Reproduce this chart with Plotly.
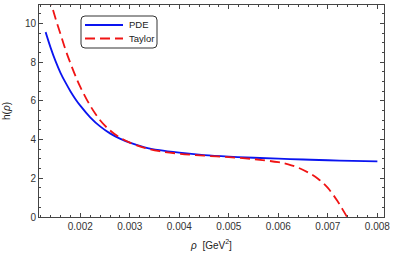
import plotly.graph_objects as go

# Data
rho_pde = [0.0013, 0.0014, 0.0015, 0.0016, 0.0017, 0.0018, 0.0019, 0.0020, 0.0022, 0.0024,
           0.0026, 0.0028, 0.0030, 0.0033, 0.0036, 0.0040, 0.0045, 0.0050, 0.0055, 0.0060,
           0.0065, 0.0070, 0.0075, 0.0080]
h_pde = [9.55, 8.75, 8.05, 7.45, 6.95, 6.50, 6.10, 5.75, 5.15, 4.68,
         4.32, 4.05, 3.84, 3.60, 3.45, 3.32, 3.20, 3.12, 3.06, 3.01,
         2.97, 2.93, 2.90, 2.87]

rho_taylor = [0.0013, 0.0014, 0.0015, 0.0016, 0.0017, 0.0018, 0.0019, 0.0020, 0.0022, 0.0024,
              0.0026, 0.0028, 0.0030, 0.0033, 0.0036, 0.0040, 0.0045, 0.0050, 0.0055, 0.0060,
              0.0062, 0.0064, 0.0066, 0.0068, 0.0070, 0.0072, 0.0073, 0.0074]
h_taylor = [12.2, 11.15, 10.25, 9.45, 8.65, 7.95, 7.30, 6.72, 5.75, 5.00,
            4.47, 4.10, 3.84, 3.57, 3.40, 3.27, 3.17, 3.09, 2.99, 2.83,
            2.72, 2.55, 2.30, 1.98, 1.50, 0.80, 0.38, -0.05]

series_names = ["PDE", "Taylor"]
x_ticks = [0.002, 0.003, 0.004, 0.005, 0.006, 0.007, 0.008]
x_ticklabels = ["0.002", "0.003", "0.004", "0.005", "0.006", "0.007", "0.008"]
y_ticks = [0, 2, 4, 6, 8, 10]

W, H = 399, 258
L, R, T, B = 39, 15, 5, 41
BLUE, RED = "#0a14f0", "#f01414"
FONT = "Liberation Sans, Arial"

fig = go.Figure()
fig.add_trace(go.Scatter(x=rho_pde, y=h_pde, mode="lines", name=series_names[0],
                         line=dict(color=BLUE, width=1.8, shape="spline")))
fig.add_trace(go.Scatter(x=rho_taylor, y=h_taylor, mode="lines", name=series_names[1],
                         line=dict(color=RED, width=1.8, dash="10px,5px", shape="spline")))

axis_common = dict(
    showline=True, linecolor="#444", linewidth=1, mirror="ticks",
    ticks="inside", ticklen=4, tickwidth=0.8, tickcolor="#444",
    showgrid=False, zeroline=False,
    tickfont=dict(family=FONT, size=10, color="#333"),
)

fig.update_layout(
    width=W, height=H,
    margin=dict(l=L, r=R, t=T, b=B, autoexpand=False),
    paper_bgcolor="white", plot_bgcolor="white",
    showlegend=False,
    xaxis=dict(range=[0.001166, 0.008134], tickvals=x_ticks, ticktext=x_ticklabels,
               minor=dict(dtick=0.0002, tick0=0, ticks="inside", ticklen=2, tickcolor="#444", showgrid=False),
               title=dict(text="<i>ρ</i>  [GeV<sup>2</sup>]", standoff=10,
                          font=dict(family=FONT, size=10, color="#222")),
               automargin=False,
               **axis_common),
    yaxis=dict(range=[0, 10.95], tickvals=y_ticks,
               minor=dict(dtick=0.5, tick0=0, ticks="inside", ticklen=2, tickcolor="#444", showgrid=False),
               title=dict(text="h(<i>ρ</i>)", standoff=12,
                          font=dict(family=FONT, size=10, color="#222")),
               automargin=False,
               **axis_common),
)

def px(xp):
    return (xp - L) / (W - L - R)
def py(yp):
    return 1 - (yp - T) / (H - T - B)

# rounded legend frame
x0, x1, y0, y1, r = 81, 157, 16, 48, 4
path = (f"M {px(x0 + r)},{py(y0)} L {px(x1 - r)},{py(y0)} "
        f"Q {px(x1)},{py(y0)} {px(x1)},{py(y0 + r)} L {px(x1)},{py(y1 - r)} "
        f"Q {px(x1)},{py(y1)} {px(x1 - r)},{py(y1)} L {px(x0 + r)},{py(y1)} "
        f"Q {px(x0)},{py(y1)} {px(x0)},{py(y1 - r)} L {px(x0)},{py(y0 + r)} "
        f"Q {px(x0)},{py(y0)} {px(x0 + r)},{py(y0)} Z")
fig.add_shape(type="path", path=path, xref="paper", yref="paper",
              line=dict(color="#333", width=1), fillcolor="white", layer="above")

# legend entries
for i, (name, col, dash) in enumerate([(series_names[0], BLUE, "solid"), (series_names[1], RED, "10px,5px")]):
    yy = 25 + i * 13.5
    fig.add_shape(type="line", xref="paper", yref="paper",
                  x0=px(85), x1=px(123), y0=py(yy), y1=py(yy),
                  line=dict(color=col, width=1.8, dash=dash), layer="above")
    fig.add_annotation(xref="paper", yref="paper", x=px(127), y=py(yy), text=name,
                       showarrow=False, xanchor="left", yanchor="middle",
                       font=dict(family=FONT, size=9.5, color="#222"))

fig.write_html("out.html", config={"displayModeBar": False},
               post_script="document.body.style.margin='0';document.body.style.padding='0';")
